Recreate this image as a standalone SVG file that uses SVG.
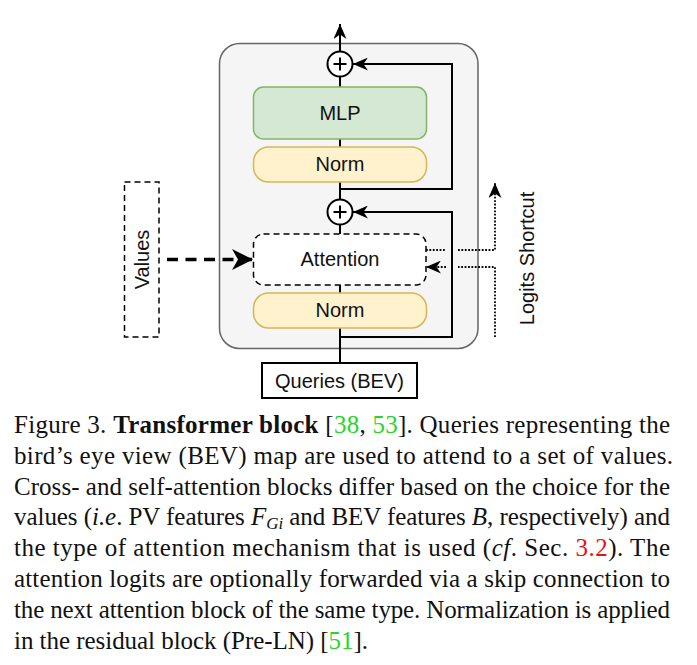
<svg xmlns="http://www.w3.org/2000/svg" width="697" height="665" viewBox="0 0 697 665">
<defs>
<style>
.lbl{font-family:"Liberation Sans",Arial,sans-serif;font-size:20px;fill:#111;text-anchor:middle}
.cap{font-family:"Liberation Serif","Times New Roman",serif;font-size:25px;fill:#111}
.ln{fill:none;stroke:#000;stroke-width:2}
.dot{fill:none;stroke:#000;stroke-width:1.8;stroke-dasharray:1.8 1.6}
.g{fill:#2ad52a}
.r{fill:#e8101a}
</style>
<marker id="arr" markerUnits="userSpaceOnUse" viewBox="0 0 15 13" refX="15" refY="6.5" markerWidth="15" markerHeight="13" orient="auto">
<path d="M0,0 L15,6.5 L0,13 L4.5,6.5 Z" fill="#000"/>
</marker>
<marker id="arrBig" markerUnits="userSpaceOnUse" viewBox="0 0 21 21" refX="21" refY="10.5" markerWidth="21" markerHeight="21" orient="auto">
<path d="M0,0 L21,10.5 L0,21 L6,10.5 Z" fill="#000"/>
</marker>
</defs>
<g id="block">
<rect x="219.5" y="43.5" width="258.5" height="305" rx="20" ry="20" fill="#f5f5f5" stroke="#666" stroke-width="1.5"/>
</g>
<g id="connectors">
<line class="ln" x1="340" y1="51.5" x2="340" y2="24" marker-end="url(#arr)"/>
<line class="ln" x1="340" y1="76.5" x2="340" y2="87"/>
<line class="ln" x1="340" y1="139" x2="340" y2="147"/>
<line class="ln" x1="340" y1="182" x2="340" y2="199.5"/>
<line class="ln" x1="340" y1="224.5" x2="340" y2="234"/>
<line class="ln" x1="340" y1="285" x2="340" y2="293"/>
<line class="ln" x1="340" y1="328" x2="340" y2="363"/>
<polyline class="ln" points="340,337 452,337 452,212 353,212" marker-end="url(#arr)"/>
<polyline class="ln" points="340,189 452,189 452,64 353,64" marker-end="url(#arr)"/>
<line x1="167" y1="259.5" x2="253" y2="259.5" stroke="#000" stroke-width="3.5" stroke-dasharray="11 7.5" marker-end="url(#arrBig)"/>
<line class="dot" x1="426" y1="250" x2="446" y2="250"/>
<polyline class="dot" points="458,250 495,250 495,183" marker-end="url(#arr)"/>
<polyline class="dot" points="495,337 495,267 458,267"/>
<line class="dot" x1="446" y1="267" x2="426" y2="267" marker-end="url(#arr)"/>
</g>
<g id="plus1">
<circle cx="340" cy="64" r="12.5" fill="#fff" stroke="#000" stroke-width="2"/>
<path d="M333.5,64 H346.5 M340,57.5 V70.5" stroke="#000" stroke-width="2"/>
</g>
<g id="plus2">
<circle cx="340" cy="212" r="12.5" fill="#fff" stroke="#000" stroke-width="2"/>
<path d="M333.5,212 H346.5 M340,205.5 V218.5" stroke="#000" stroke-width="2"/>
</g>
<g id="mlp">
<rect x="253.5" y="87" width="173" height="52" rx="10" fill="#d5e8d4" stroke="#82b366" stroke-width="1.5"/>
<text class="lbl" x="340" y="120">MLP</text>
</g>
<g id="norm1">
<rect x="253.5" y="147" width="173" height="35" rx="15" fill="#fff2cc" stroke="#d6b656" stroke-width="1.5"/>
<text class="lbl" x="340" y="171">Norm</text>
</g>
<g id="attention">
<rect x="253.5" y="234" width="172.5" height="51" rx="10" fill="#fff" stroke="#000" stroke-width="1.5" stroke-dasharray="6 4"/>
<text class="lbl" x="340" y="266">Attention</text>
</g>
<g id="norm2">
<rect x="253.5" y="293" width="173" height="35" rx="15" fill="#fff2cc" stroke="#d6b656" stroke-width="1.5"/>
<text class="lbl" x="340" y="317">Norm</text>
</g>
<g id="queries">
<rect x="262" y="363" width="155" height="35" fill="#fff" stroke="#000" stroke-width="2"/>
<text class="lbl" x="339.5" y="387.5">Queries (BEV)</text>
</g>
<g id="values">
<rect x="124.5" y="182" width="34.5" height="155" fill="none" stroke="#000" stroke-width="1.5" stroke-dasharray="6 4"/>
<text class="lbl" transform="translate(149,259.5) rotate(-90)" x="0" y="0">Values</text>
</g>
<g id="logits-label">
<text class="lbl" transform="translate(534,258.5) rotate(-90)" x="0" y="0">Logits Shortcut</text>
</g>
<g id="caption">
<text class="cap" x="14" y="433" textLength="656" lengthAdjust="spacing">Figure 3. <tspan font-weight="bold">Transformer block</tspan> [<tspan class="g">38</tspan>, <tspan class="g">53</tspan>]. Queries representing the</text>
<text class="cap" x="14" y="463.8" textLength="659" lengthAdjust="spacing">bird’s eye view (BEV) map are used to attend to a set of values.</text>
<text class="cap" x="14" y="494.6" textLength="656" lengthAdjust="spacing">Cross- and self-attention blocks differ based on the choice for the</text>
<text class="cap" x="14" y="525.4" textLength="656" lengthAdjust="spacing">values (<tspan font-style="italic">i.e</tspan>. PV features <tspan font-style="italic">F</tspan><tspan font-style="italic" font-size="17" dy="4">Gi</tspan><tspan dy="-4"> and BEV features </tspan><tspan font-style="italic">B</tspan>, respectively) and</text>
<text class="cap" x="14" y="556.2" textLength="656" lengthAdjust="spacing">the type of attention mechanism that is used (<tspan font-style="italic">cf</tspan>. Sec. <tspan class="r">3.2</tspan>). The</text>
<text class="cap" x="14" y="587" textLength="656" lengthAdjust="spacing">attention logits are optionally forwarded via a skip connection to</text>
<text class="cap" x="14" y="617.8" textLength="656" lengthAdjust="spacing">the next attention block of the same type. Normalization is applied</text>
<text class="cap" x="14" y="648.6" textLength="354" lengthAdjust="spacing">in the residual block (Pre-LN) [<tspan class="g">51</tspan>].</text>
</g>
</svg>
